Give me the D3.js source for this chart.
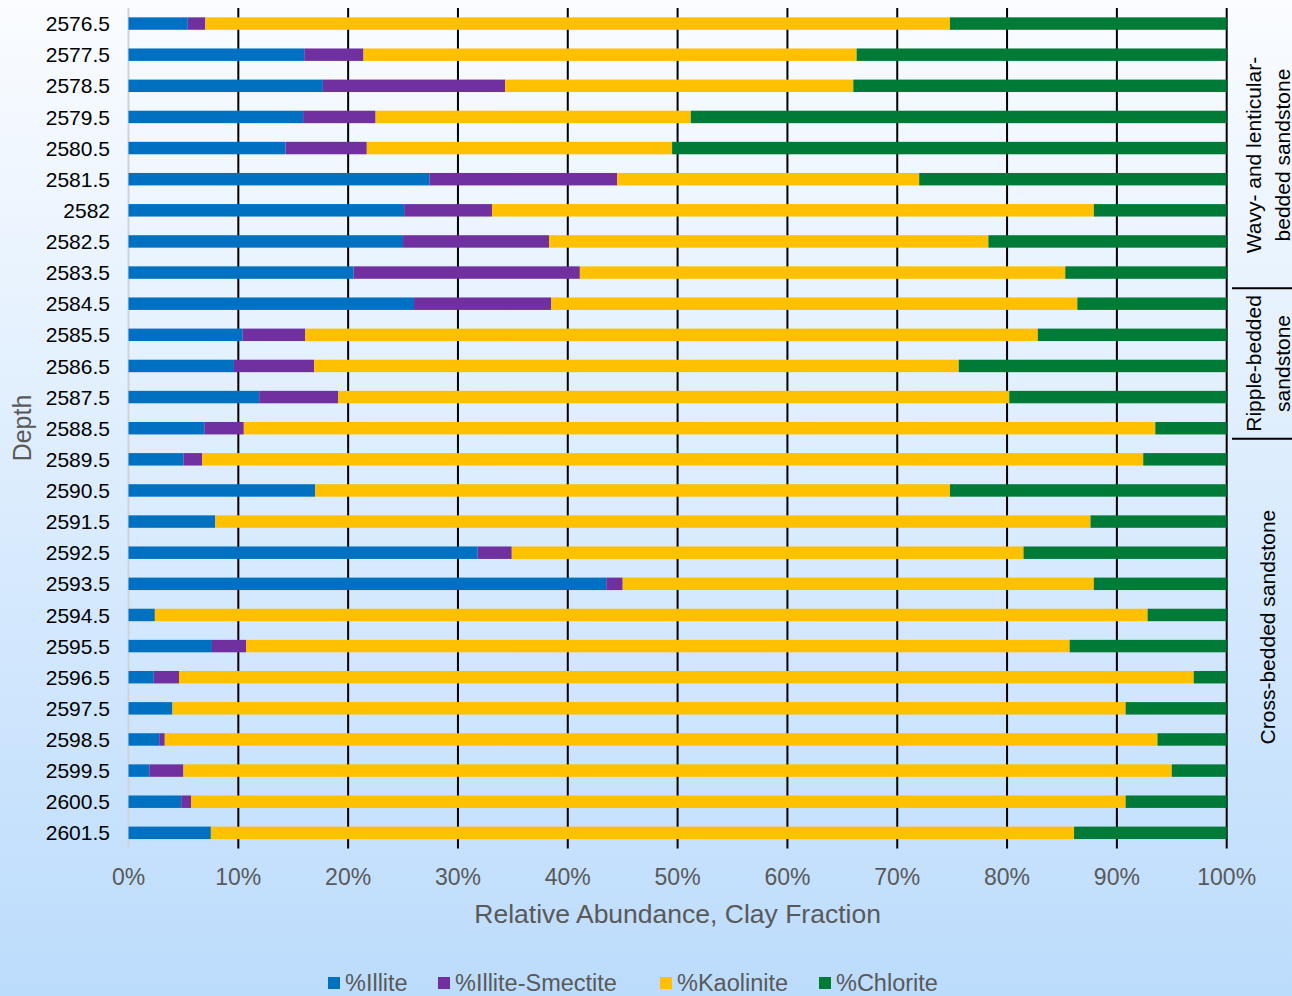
<!DOCTYPE html>
<meta charset="utf-8">
<script src="https://d3js.org/d3.v7.min.js"></script>
<style>
  body { margin: 0; }
  svg { display: block; font-family: "Liberation Sans", Arial, sans-serif; }
</style>
<div id="viz"></div>
<script>
// depth categories (top to bottom)
var depths = ["2576.5", "2577.5", "2578.5", "2579.5", "2580.5", "2581.5", "2582", "2582.5", "2583.5",
  "2584.5", "2585.5", "2586.5", "2587.5", "2588.5", "2589.5", "2590.5", "2591.5", "2592.5", "2593.5",
  "2594.5", "2595.5", "2596.5", "2597.5", "2598.5", "2599.5", "2600.5", "2601.5"];

// percentages of the clay fraction
var illite         = [5.4, 16.0, 17.7, 15.9, 14.3, 27.4, 25.1, 25.0, 20.5, 26.0, 10.4, 9.6, 11.9, 6.9, 5.0, 17.0, 7.9, 31.8, 43.5, 2.4, 7.6, 2.3, 4.0, 2.8, 1.9, 4.8, 7.5];
var illiteSmectite = [1.6, 5.4, 16.6, 6.6, 7.4, 17.1, 8.0, 13.3, 20.6, 12.5, 5.7, 7.3, 7.2, 3.6, 1.7, 0, 0, 3.1, 1.5, 0, 3.1, 2.3, 0, 0.5, 3.1, 0.9, 0];
var kaolinite      = [67.8, 44.9, 31.7, 28.7, 27.8, 27.5, 54.8, 40.0, 44.2, 47.9, 66.7, 58.7, 61.1, 83.0, 85.7, 57.8, 79.7, 46.6, 42.9, 90.4, 75.0, 92.4, 86.8, 90.4, 90.0, 85.1, 78.6];
var chlorite       = [25.2, 33.7, 34.0, 48.8, 50.5, 28.0, 12.1, 21.7, 14.7, 13.6, 17.2, 24.4, 19.8, 6.5, 7.6, 25.2, 12.4, 18.5, 12.1, 7.2, 14.3, 3.0, 9.2, 6.3, 5.0, 9.2, 13.9];

var seriesNames = ["%Illite", "%Illite-Smectite", "%Kaolinite", "%Chlorite"];
var seriesColors = ["#0070C0", "#7030A0", "#FFC000", "#007A37"];
var xTicks = [0, 10, 20, 30, 40, 50, 60, 70, 80, 90, 100];

// facies intervals shown on the right
var faciesLines = [["Wavy- and lenticular-", "bedded sandstone"], ["Ripple-bedded", "sandstone"], ["Cross-bedded sandstone"]];
var faciesFrom = ["2576.5", "2584.5", "2589.5"];
var faciesTo = ["2583.5", "2588.5", "2601.5"];

var W = 1292, H = 996;
var rows = depths.map(function(d, i) {
  return {depth: d, "%Illite": illite[i], "%Illite-Smectite": illiteSmectite[i],
          "%Kaolinite": kaolinite[i], "%Chlorite": chlorite[i]};
});

var svg = d3.select("#viz").append("svg")
  .attr("width", W).attr("height", H);

var grad = svg.append("defs").append("linearGradient")
  .attr("id", "bg").attr("x1", 0).attr("y1", 0).attr("x2", 0).attr("y2", 1);
grad.append("stop").attr("offset", "0%").attr("stop-color", "#fafcff");
grad.append("stop").attr("offset", "100%").attr("stop-color", "#bcdcfc");
svg.append("rect").attr("width", W).attr("height", H).attr("fill", "url(#bg)");

var plotTop = 8, plotBottom = 848.4;
var x = d3.scaleLinear().domain([0, 100]).range([128.5, 1226.7]);
var y = d3.scaleBand().domain(depths).range([plotTop, plotBottom])
  .paddingInner(0.6).paddingOuter(0.3);

// vertical gridlines
svg.append("g").selectAll("line")
  .data(xTicks.slice(1))
  .join("line")
    .attr("x1", function(d) { return x(d); })
    .attr("x2", function(d) { return x(d); })
    .attr("y1", plotTop).attr("y2", plotBottom)
    .attr("stroke", "#000").attr("stroke-width", 2);

// left axis line
svg.append("line")
  .attr("x1", x(0)).attr("x2", x(0)).attr("y1", plotTop).attr("y2", plotBottom)
  .attr("stroke", "#d0d4da").attr("stroke-width", 2);

var stacked = d3.stack().keys(seriesNames)(rows);

svg.append("g").selectAll("g")
  .data(stacked)
  .join("g")
    .attr("fill", function(d, i) { return seriesColors[i]; })
  .selectAll("rect")
  .data(function(d) { return d; })
  .join("rect")
    .attr("x", function(d) { return x(d[0]); })
    .attr("y", function(d) { return y(d.data.depth); })
    .attr("width", function(d) { return x(d[1]) - x(d[0]); })
    .attr("height", y.bandwidth());

// y axis labels
svg.append("g").selectAll("text")
  .data(depths)
  .join("text")
    .attr("x", 110)
    .attr("y", function(d) { return y(d) + y.bandwidth() / 2; })
    .attr("dy", "0.36em")
    .attr("text-anchor", "end")
    .attr("font-size", 21)
    .attr("fill", "#000")
    .text(function(d) { return d; });

// x axis labels
svg.append("g").selectAll("text")
  .data(xTicks)
  .join("text")
    .attr("x", function(d) { return x(d); })
    .attr("y", 885)
    .attr("text-anchor", "middle")
    .attr("font-size", 23)
    .attr("fill", "#595959")
    .text(function(d) { return d + "%"; });

svg.append("text")
  .attr("x", (x(0) + x(100)) / 2).attr("y", 923)
  .attr("text-anchor", "middle")
  .attr("font-size", 26.5).attr("fill", "#595959")
  .text("Relative Abundance, Clay Fraction");

svg.append("text")
  .attr("transform", "translate(31,428) rotate(-90)")
  .attr("text-anchor", "middle")
  .attr("font-size", 25).attr("fill", "#595959")
  .text("Depth");

// facies brackets and labels
var half = y.step() / 2;
var labelShift = [7, 0, -19];
faciesLines.forEach(function(lines, i) {
  var top = i === 0 ? plotTop : y(faciesFrom[i]) + y.bandwidth() / 2 - half;
  var bottom = y(faciesTo[i]) + y.bandwidth() / 2 + half;
  if (i === 1) bottom -= 5;
  if (i < faciesLines.length - 1) {
    svg.append("line")
      .attr("x1", 1232).attr("x2", W)
      .attr("y1", bottom).attr("y2", bottom)
      .attr("stroke", "#000").attr("stroke-width", 2);
  }
  var cy = (top + bottom) / 2 + labelShift[i];
  var n = lines.length;
  lines.forEach(function(line, j) {
    var cx = 1268 + (j - (n - 1) / 2) * 29;
    svg.append("text")
      .attr("transform", "translate(" + (cx + 7) + "," + cy + ") rotate(-90)")
      .attr("text-anchor", "middle")
      .attr("font-size", 21).attr("fill", "#000")
      .text(line);
  });
});

// legend
var legendX = [328, 438, 660, 819];
var legend = svg.append("g").selectAll("g")
  .data(seriesNames)
  .join("g")
    .attr("transform", function(d, i) { return "translate(" + legendX[i] + ",977)"; });
legend.append("rect")
  .attr("width", 12).attr("height", 12)
  .attr("fill", function(d, i) { return seriesColors[i]; });
legend.append("text")
  .attr("x", 17).attr("y", 14)
  .attr("font-size", 23.5).attr("fill", "#595959")
  .text(function(d) { return d; });
</script>
